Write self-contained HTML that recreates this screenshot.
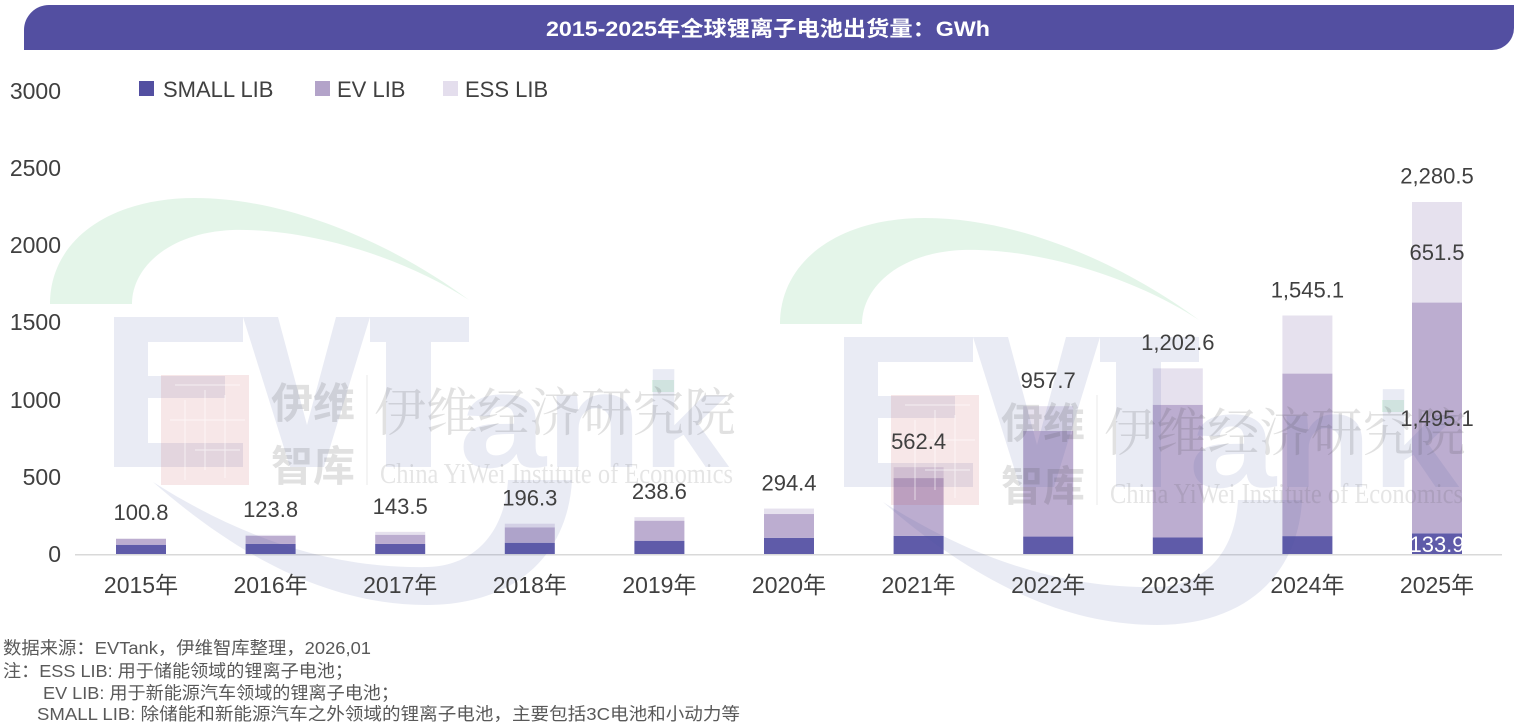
<!DOCTYPE html>
<html><head><meta charset="utf-8"><style>
html,body{margin:0;padding:0;background:#fff;}
svg{display:block;font-family:"Liberation Sans","Noto Sans CJK SC",sans-serif;}
</style></head><body>
<svg width="1521" height="723" viewBox="0 0 1521 723" xmlns="http://www.w3.org/2000/svg">
<rect width="1521" height="723" fill="#fff"/>
<!-- title bar -->
<path d="M24,30 A25,25 0 0 1 49,5 H1514 V28 A22,22 0 0 1 1492,50 H24 Z" fill="#534fa1"/>
<text x="768" y="36" text-anchor="middle" font-size="21" font-weight="bold" fill="#fff" textLength="444" lengthAdjust="spacingAndGlyphs">2015-2025年全球锂离子电池出货量：GWh</text>

<!-- legend -->
<rect x="139" y="81" width="15" height="15" fill="#534fa1"/>
<text x="163" y="97" font-size="22" fill="#404040">SMALL LIB</text>
<rect x="315" y="81" width="15" height="15" fill="#b3a3c9"/>
<text x="337" y="97" font-size="22" fill="#404040">EV LIB</text>
<rect x="443" y="81" width="15" height="15" fill="#e4deed"/>
<text x="465" y="97" font-size="22" fill="#404040">ESS LIB</text>

<!-- y axis labels -->
<g font-size="23" fill="#404040" text-anchor="end">
<text x="61" y="99">3000</text>
<text x="61" y="176">2500</text>
<text x="61" y="253">2000</text>
<text x="61" y="330">1500</text>
<text x="61" y="408">1000</text>
<text x="61" y="485">500</text>
<text x="61" y="562">0</text>
</g>

<!-- bars -->
<g>
<rect x="116" y="544.74" width="50" height="9.26" fill="#5f5ba9"/>
<rect x="116" y="538.72" width="50" height="6.02" fill="#bcadd0"/>
<rect x="116" y="538.44" width="50" height="0.28" fill="#e6e1ee"/>

<rect x="245.6" y="543.97" width="50" height="10.03" fill="#5f5ba9"/>
<rect x="245.6" y="535.94" width="50" height="8.03" fill="#bcadd0"/>
<rect x="245.6" y="534.89" width="50" height="1.05" fill="#e6e1ee"/>

<rect x="375.2" y="543.97" width="50" height="10.03" fill="#5f5ba9"/>
<rect x="375.2" y="534.71" width="50" height="9.26" fill="#bcadd0"/>
<rect x="375.2" y="531.85" width="50" height="2.86" fill="#e6e1ee"/>

<rect x="504.8" y="542.73" width="50" height="11.27" fill="#5f5ba9"/>
<rect x="504.8" y="527.29" width="50" height="15.44" fill="#bcadd0"/>
<rect x="504.8" y="523.70" width="50" height="3.59" fill="#e6e1ee"/>

<rect x="634.4" y="540.73" width="50" height="13.27" fill="#5f5ba9"/>
<rect x="634.4" y="520.66" width="50" height="20.07" fill="#bcadd0"/>
<rect x="634.4" y="517.17" width="50" height="3.49" fill="#e6e1ee"/>

<rect x="764" y="537.79" width="50" height="16.21" fill="#5f5ba9"/>
<rect x="764" y="514.02" width="50" height="23.77" fill="#bcadd0"/>
<rect x="764" y="508.56" width="50" height="5.46" fill="#e6e1ee"/>

<rect x="893.6" y="535.79" width="50" height="18.21" fill="#5f5ba9"/>
<rect x="893.6" y="478.06" width="50" height="57.73" fill="#bcadd0"/>
<rect x="893.6" y="467.19" width="50" height="10.87" fill="#e6e1ee"/>

<rect x="1023.2" y="536.56" width="50" height="17.44" fill="#5f5ba9"/>
<rect x="1023.2" y="430.98" width="50" height="105.58" fill="#bcadd0"/>
<rect x="1023.2" y="406.18" width="50" height="24.80" fill="#e6e1ee"/>

<rect x="1152.8" y="537.48" width="50" height="16.52" fill="#5f5ba9"/>
<rect x="1152.8" y="404.74" width="50" height="132.74" fill="#bcadd0"/>
<rect x="1152.8" y="368.37" width="50" height="36.37" fill="#e6e1ee"/>

<rect x="1282.4" y="536.10" width="50" height="17.90" fill="#5f5ba9"/>
<rect x="1282.4" y="373.57" width="50" height="162.53" fill="#bcadd0"/>
<rect x="1282.4" y="315.52" width="50" height="58.05" fill="#e6e1ee"/>

<rect x="1412" y="533.33" width="50" height="20.67" fill="#5f5ba9"/>
<rect x="1412" y="302.56" width="50" height="230.77" fill="#bcadd0"/>
<rect x="1412" y="202.00" width="50" height="100.56" fill="#e6e1ee"/>
</g>

<!-- axis line -->
<line x1="75" y1="554.7" x2="1502" y2="554.7" stroke="#d9d9d9" stroke-width="1.5"/>

<!-- watermark logo 1 -->
<g>
<path d="M50,304 C50,240 110,198 195,198 C290,198 395,245 469,300 C400,255 305,228 232,230 C168,233 132,268 132,304 Z" fill="rgba(30,172,72,0.12)"/>
<path d="M114,317 H243 V342 H148 V376 H225 V398 H148 V443 H243 V467 H114 Z" fill="rgba(72,88,163,0.12)"/>
<path d="M243,317 H278 L307,425 L336,317 H370 L324,467 H290 Z" fill="rgba(72,88,163,0.12)"/>
<path d="M370,317 H469 V342 H431 V467 H386 V342 H370 Z" fill="rgba(72,88,163,0.12)"/>
<text x="459" y="467" font-size="135" font-weight="bold" fill="rgba(72,88,163,0.12)" textLength="270" lengthAdjust="spacingAndGlyphs">ank</text>
<path d="M153,482 C240,558 330,605 427,605 C515,605 568,555 572,480 L508,480 C505,532 475,566 427,567 C330,569 240,537 153,482 Z" fill="rgba(72,88,163,0.12)"/>
<rect x="161" y="375" width="88" height="110" fill="rgba(195,68,75,0.13)"/>
<g stroke="rgba(255,255,255,0.6)" stroke-width="1" fill="none">
<path d="M175,385 H240 M185,400 V480 M205,390 V470 M170,420 H245 M195,450 H240 M225,395 V478"/>
</g>
<rect x="652" y="380" width="22" height="12" fill="rgba(30,172,72,0.12)"/>
<text x="271" y="418" font-size="42" font-weight="bold" fill="rgba(80,80,80,0.17)" font-family="'Noto Sans CJK SC',sans-serif">伊维</text>
<text x="271" y="481" font-size="42" font-weight="bold" fill="rgba(80,80,80,0.17)" font-family="'Noto Sans CJK SC',sans-serif">智库</text>
<line x1="367" y1="375" x2="367" y2="485" stroke="rgba(80,80,80,0.08)" stroke-width="1.5"/>
<text x="374" y="431" font-size="52" fill="rgba(80,80,80,0.17)" font-family="'Noto Serif CJK SC',serif" textLength="362" lengthAdjust="spacingAndGlyphs">伊维经济研究院</text>
<text x="380" y="483" font-size="28" fill="rgba(80,80,80,0.15)" font-family="'Liberation Serif',serif" textLength="353" lengthAdjust="spacingAndGlyphs">China YiWei Institute of Economics</text>
</g>

<!-- watermark logo 2 -->
<g transform="translate(730,20)">
<path d="M50,304 C50,240 110,198 195,198 C290,198 395,245 469,300 C400,255 305,228 232,230 C168,233 132,268 132,304 Z" fill="rgba(30,172,72,0.12)"/>
<path d="M114,317 H243 V342 H148 V376 H225 V398 H148 V443 H243 V467 H114 Z" fill="rgba(72,88,163,0.12)"/>
<path d="M243,317 H278 L307,425 L336,317 H370 L324,467 H290 Z" fill="rgba(72,88,163,0.12)"/>
<path d="M370,317 H469 V342 H431 V467 H386 V342 H370 Z" fill="rgba(72,88,163,0.12)"/>
<text x="459" y="467" font-size="135" font-weight="bold" fill="rgba(72,88,163,0.12)" textLength="270" lengthAdjust="spacingAndGlyphs">ank</text>
<path d="M153,482 C240,558 330,605 427,605 C515,605 568,555 572,480 L508,480 C505,532 475,566 427,567 C330,569 240,537 153,482 Z" fill="rgba(72,88,163,0.12)"/>
<rect x="161" y="375" width="88" height="110" fill="rgba(195,68,75,0.13)"/>
<g stroke="rgba(255,255,255,0.6)" stroke-width="1" fill="none">
<path d="M175,385 H240 M185,400 V480 M205,390 V470 M170,420 H245 M195,450 H240 M225,395 V478"/>
</g>
<rect x="652" y="380" width="22" height="12" fill="rgba(30,172,72,0.12)"/>
<text x="271" y="418" font-size="42" font-weight="bold" fill="rgba(80,80,80,0.17)" font-family="'Noto Sans CJK SC',sans-serif">伊维</text>
<text x="271" y="481" font-size="42" font-weight="bold" fill="rgba(80,80,80,0.17)" font-family="'Noto Sans CJK SC',sans-serif">智库</text>
<line x1="367" y1="375" x2="367" y2="485" stroke="rgba(80,80,80,0.08)" stroke-width="1.5"/>
<text x="374" y="431" font-size="52" fill="rgba(80,80,80,0.17)" font-family="'Noto Serif CJK SC',serif" textLength="362" lengthAdjust="spacingAndGlyphs">伊维经济研究院</text>
<text x="380" y="483" font-size="28" fill="rgba(80,80,80,0.15)" font-family="'Liberation Serif',serif" textLength="353" lengthAdjust="spacingAndGlyphs">China YiWei Institute of Economics</text>
</g>

<!-- data labels -->
<g font-size="22" fill="#404040" text-anchor="middle">
<text x="141" y="520">100.8</text>
<text x="270.6" y="517">123.8</text>
<text x="400.2" y="514">143.5</text>
<text x="529.8" y="505.5">196.3</text>
<text x="659.4" y="499">238.6</text>
<text x="789" y="490.5">294.4</text>
<text x="918.6" y="449">562.4</text>
<text x="1048.2" y="388">957.7</text>
<text x="1177.8" y="350">1,202.6</text>
<text x="1307.4" y="297.5">1,545.1</text>
<text x="1437" y="183.5">2,280.5</text>
<text x="1437" y="260">651.5</text>
<text x="1437" y="426">1,495.1</text>
</g>
<clipPath id="c25"><rect x="1412" y="533.33" width="50" height="20.67"/></clipPath>
<text x="1437" y="552" font-size="22" fill="#fff" text-anchor="middle" clip-path="url(#c25)">133.9</text>

<!-- x labels -->
<g font-size="23" fill="#404040" text-anchor="middle">
<text x="141" y="593">2015年</text>
<text x="270.6" y="593">2016年</text>
<text x="400.2" y="593">2017年</text>
<text x="529.8" y="593">2018年</text>
<text x="659.4" y="593">2019年</text>
<text x="789" y="593">2020年</text>
<text x="918.6" y="593">2021年</text>
<text x="1048.2" y="593">2022年</text>
<text x="1177.8" y="593">2023年</text>
<text x="1307.4" y="593">2024年</text>
<text x="1437" y="593">2025年</text>
</g>

<!-- footnotes -->
<g font-size="17.5" fill="#595959">
<text x="3" y="654" textLength="368" lengthAdjust="spacingAndGlyphs">数据来源：EVTank，伊维智库整理，2026,01</text>
<text x="3" y="677" textLength="350" lengthAdjust="spacingAndGlyphs">注：ESS LIB: 用于储能领域的锂离子电池；</text>
<text x="43" y="699" textLength="356" lengthAdjust="spacingAndGlyphs">EV LIB: 用于新能源汽车领域的锂离子电池；</text>
<text x="37" y="720" textLength="703" lengthAdjust="spacingAndGlyphs">SMALL LIB: 除储能和新能源汽车之外领域的锂离子电池，主要包括3C电池和小动力等</text>
</g>
</svg>
</body></html>
